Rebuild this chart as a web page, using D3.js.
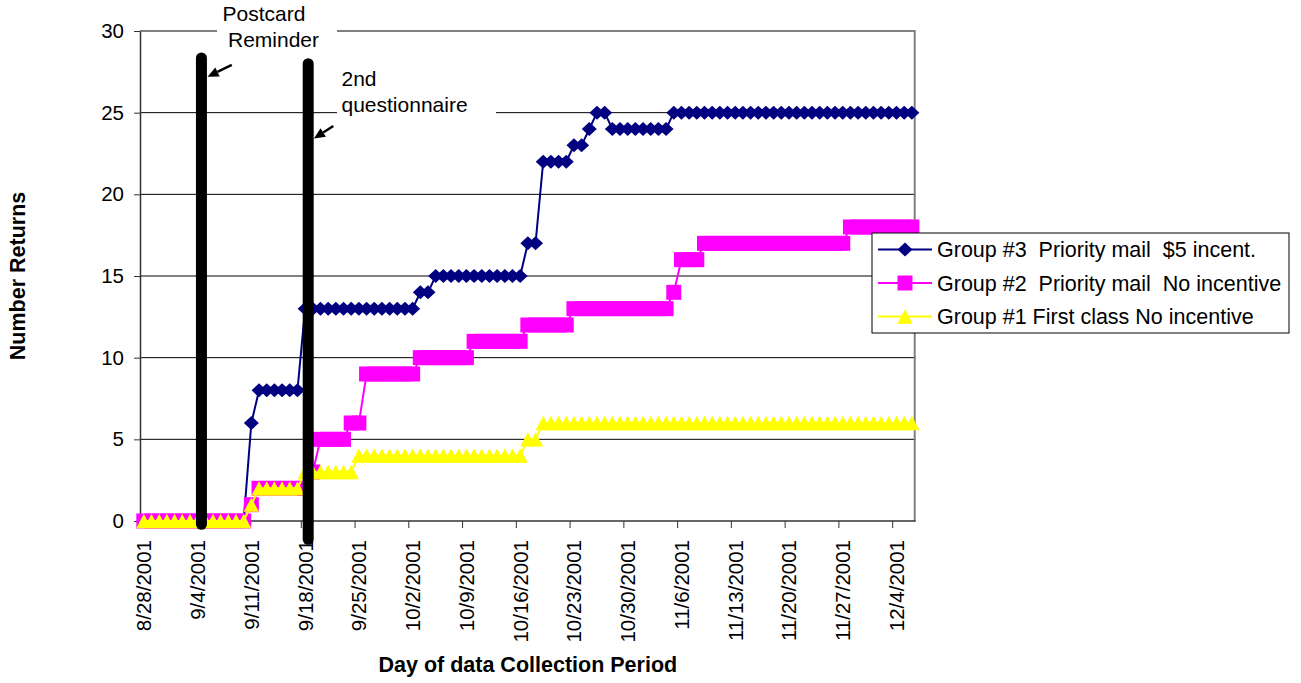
<!DOCTYPE html>
<html>
<head>
<meta charset="utf-8">
<script src="https://cdn.jsdelivr.net/npm/d3@7"></script>
<style>
  html, body { margin: 0; padding: 0; background: #fff; }
  svg { display: block; font-family: "Liberation Sans", Arial, sans-serif; }
  text { white-space: pre; }
</style>
</head>
<body>
<svg id="chart" width="1301" height="683"></svg>
<script>
// ---------------- DATA ----------------
const startDate = new Date(2001, 7, 28);   // 8/28/2001
const endDate   = new Date(2001, 11, 7);   // exclusive -> last day 12/6/2001

const tickLabels = ["8/28/2001","9/4/2001","9/11/2001","9/18/2001","9/25/2001",
  "10/2/2001","10/9/2001","10/16/2001","10/23/2001","10/30/2001","11/6/2001",
  "11/13/2001","11/20/2001","11/27/2001","12/4/2001"];

const yTicks = [0, 5, 10, 15, 20, 25, 30];

const seriesNames = [
  "Group #3  Priority mail  $5 incent.",
  "Group #2  Priority mail  No incentive",
  "Group #1 First class No incentive"
];

// Group #3 Priority mail $5 incentive (one value per day)
const group3 = [
  0,0,0,0,0,0,0,0,0,0,
  0,0,0,0,6,8,8,8,8,8,
  8,13,13,13,13,13,13,13,13,13,
  13,13,13,13,13,13,14,14,15,15,
  15,15,15,15,15,15,15,15,15,15,
  17,17,22,22,22,22,23,23,24,25,
  25,24,24,24,24,24,24,24,24,25,
  25,25,25,25,25,25,25,25,25,25,
  25,25,25,25,25,25,25,25,25,25,
  25,25,25,25,25,25,25,25,25,25,
  25
];
// Group #2 Priority mail No incentive
const group2 = [
  0,0,0,0,0,0,0,0,0,0,
  0,0,0,0,1,2,2,2,2,2,
  2,2,3,5,5,5,5,6,6,9,
  9,9,9,9,9,9,10,10,10,10,
  10,10,10,11,11,11,11,11,11,11,
  12,12,12,12,12,12,13,13,13,13,
  13,13,13,13,13,13,13,13,13,14,
  16,16,16,17,17,17,17,17,17,17,
  17,17,17,17,17,17,17,17,17,17,
  17,17,18,18,18,18,18,18,18,18,
  18
];
// Group #1 First class No incentive
const group1 = [
  0,0,0,0,0,0,0,0,0,0,
  0,0,0,0,1,2,2,2,2,2,
  2,3,3,3,3,3,3,3,4,4,
  4,4,4,4,4,4,4,4,4,4,
  4,4,4,4,4,4,4,4,4,4,
  5,5,6,6,6,6,6,6,6,6,
  6,6,6,6,6,6,6,6,6,6,
  6,6,6,6,6,6,6,6,6,6,
  6,6,6,6,6,6,6,6,6,6,
  6,6,6,6,6,6,6,6,6,6,
  6
];

// Annotations (day index, value)
const reminderBars = [
  { day: 7.5,  top: 28.35, bottom: -0.2 },
  { day: 21.4, top: 28.0,  bottom: -1.12 }
];
const reminderArrows = [
  { fromDay: 11.45, fromVal: 27.92, toDay: 8.3,  toVal: 27.2 },
  { fromDay: 24.67, fromVal: 24.18, toDay: 22.15, toVal: 23.42 }
];

// ---------------- CHART ----------------
const svg = d3.select("#chart");
const fmt = d3.timeFormat("%-m/%-d/%Y");
const days = d3.timeDay.range(startDate, endDate).map(fmt);

const plot = { left: 140, right: 915.7, top: 31, bottom: 521 };

const x = d3.scaleBand().domain(days).range([plot.left, plot.right]).padding(0);
const bw = x.bandwidth();
const cx = d => x(d) + bw / 2;
const xIdx = i => plot.left + (i + 0.5) * bw;   // fractional day index for annotations
const y = d3.scaleLinear().domain([0, 30]).range([plot.bottom, plot.top]);

const FONT = "'Liberation Sans', Arial, sans-serif";

// gridlines
svg.append("g").selectAll("line")
  .data(yTicks.filter(v => v > 0 && v < 30))
  .join("line")
  .attr("x1", plot.left).attr("x2", plot.right)
  .attr("y1", d => y(d)).attr("y2", d => y(d))
  .attr("stroke", "#000").attr("stroke-width", 1);

// plot border (top/right grey)
svg.append("path")
  .attr("d", `M${plot.left},${y(30)}H${plot.right - 1}V${y(0)}`)
  .attr("fill", "none").attr("stroke", "#808080").attr("stroke-width", 2);

// y axis
const yAxis = d3.axisLeft(y).tickValues(yTicks).tickSize(6).tickPadding(10).tickSizeOuter(0);
const gy = svg.append("g").attr("transform", `translate(${plot.left},0)`).call(yAxis);
gy.select(".domain").attr("stroke", "#333").attr("stroke-width", 1.5);
gy.selectAll(".tick line").attr("stroke", "#333");
gy.selectAll("text").attr("font-size", 20.5).attr("font-family", FONT).attr("fill", "#000");

// x axis line
svg.append("line")
  .attr("x1", plot.left).attr("x2", plot.right)
  .attr("y1", y(0)).attr("y2", y(0))
  .attr("stroke", "#333").attr("stroke-width", 1.5);

// x ticks at band boundaries
svg.append("g").selectAll("line")
  .data(tickLabels)
  .join("line")
  .attr("x1", d => x(d)).attr("x2", d => x(d))
  .attr("y1", y(0)).attr("y2", y(0) + 7)
  .attr("stroke", "#333").attr("stroke-width", 1);

// x labels
svg.append("g").selectAll("text")
  .data(tickLabels)
  .join("text")
  .attr("transform", d => `translate(${cx(d)},${y(0) + 19}) rotate(-90)`)
  .attr("text-anchor", "end")
  .attr("dy", "0.36em")
  .attr("font-size", 20.5)
  .attr("fill", "#000")
  .text(d => d);

// axis titles
svg.append("text")
  .attr("x", (plot.left + plot.right) / 2).attr("y", 672)
  .attr("text-anchor", "middle").attr("font-size", 21.5).attr("font-weight", "bold")
  .text("Day of data Collection Period");
svg.append("text")
  .attr("transform", `translate(25,${(plot.top + plot.bottom) / 2}) rotate(-90)`)
  .attr("text-anchor", "middle").attr("font-size", 21.5).attr("font-weight", "bold")
  .text("Number Returns");

// symbols
const diamondPath = "M0,-7L7.5,0L0,7L-7.5,0Z";
const squarePath  = "M-7.5,-7.5H7.5V7.5H-7.5Z";
const trianglePath = "M0,-7.2L7.6,7.2H-7.6Z";

const series = [
  { name: seriesNames[0], values: group3, color: "#000080", symbol: diamondPath },
  { name: seriesNames[1], values: group2, color: "#FF00FF", symbol: squarePath },
  { name: seriesNames[2], values: group1, color: "#FFFF00", symbol: trianglePath }
];

const line = d3.line().x((v, i) => cx(days[i])).y(v => y(v));

series.forEach(s => {
  const g = svg.append("g");
  g.append("path")
    .attr("d", line(s.values))
    .attr("fill", "none").attr("stroke", s.color).attr("stroke-width", 2);
  g.selectAll("path.m")
    .data(s.values)
    .join("path")
    .attr("class", "m")
    .attr("d", s.symbol)
    .attr("transform", (v, i) => `translate(${cx(days[i])},${y(v)})`)
    .attr("fill", s.color);
});

// annotation text boxes
svg.append("rect").attr("x", 217).attr("y", 0).attr("width", 120).attr("height", 51).attr("fill", "#fff");
svg.append("rect").attr("x", 337).attr("y", 60).attr("width", 159).attr("height", 66).attr("fill", "#fff");

const annText = [
  { t: "Postcard", x: 222.5, y: 20.5 },
  { t: "Reminder", x: 228, y: 46.5 },
  { t: "2nd", x: 341.5, y: 86 },
  { t: "questionnaire", x: 341.5, y: 111.5 }
];
svg.append("g").selectAll("text").data(annText).join("text")
  .attr("x", d => d.x).attr("y", d => d.y)
  .attr("font-size", 21).attr("fill", "#000")
  .text(d => d.t);

// reminder bars
svg.append("g").selectAll("line").data(reminderBars).join("line")
  .attr("x1", d => xIdx(d.day)).attr("x2", d => xIdx(d.day))
  .attr("y1", d => y(d.top)).attr("y2", d => y(d.bottom))
  .attr("stroke", "#000").attr("stroke-width", 11).attr("stroke-linecap", "round");

// arrows
const ga = svg.append("g");
reminderArrows.forEach(a => {
  const x1 = xIdx(a.fromDay), y1 = y(a.fromVal), x2 = xIdx(a.toDay), y2 = y(a.toVal);
  const ang = Math.atan2(y2 - y1, x2 - x1);
  const L = 11, Wd = 5;
  const bx = x2 - L * Math.cos(ang), by = y2 - L * Math.sin(ang);
  ga.append("line").attr("x1", x1).attr("y1", y1).attr("x2", bx).attr("y2", by)
    .attr("stroke", "#000").attr("stroke-width", 2.5);
  const px = -Math.sin(ang) * Wd, py = Math.cos(ang) * Wd;
  ga.append("path")
    .attr("d", `M${x2},${y2}L${bx + px},${by + py}L${bx - px},${by - py}Z`)
    .attr("fill", "#000");
});

// legend
const lg = svg.append("g");
lg.append("rect").attr("x", 872).attr("y", 233).attr("width", 417).attr("height", 100)
  .attr("fill", "#fff").attr("stroke", "#000").attr("stroke-width", 1);
const rowY = [249.5, 283, 316.5];
series.forEach((s, k) => {
  const ry = rowY[k];
  lg.append("line").attr("x1", 878).attr("x2", 932).attr("y1", ry).attr("y2", ry)
    .attr("stroke", s.color).attr("stroke-width", 2);
  lg.append("path").attr("d", s.symbol).attr("transform", `translate(905,${ry})`).attr("fill", s.color);
  lg.append("text").attr("x", 937).attr("y", ry + 7.5).attr("font-size", 21.5).attr("fill", "#000").text(s.name);
});
</script>
</body>
</html>
